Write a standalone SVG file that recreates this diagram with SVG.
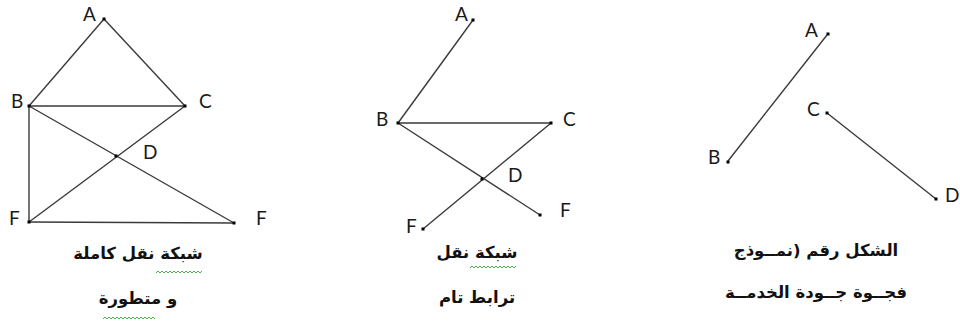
<svg xmlns="http://www.w3.org/2000/svg" width="960" height="329" viewBox="0 0 960 329">
<defs>
<style>
.e{stroke:#3a3a3a;stroke-width:1.4;fill:none}
.d{fill:#000}
.l{font-family:Lato,"Open Sans",sans-serif;font-size:19px;fill:#1a1a1a}
.ar{font-family:"DejaVu Sans",sans-serif;font-weight:bold;font-size:16.5px;fill:#111}
.sq{stroke:#4caf50;stroke-width:1;fill:none}
</style>
</defs>
<rect width="960" height="329" fill="#fff"/>
<g id="connectors">
<line class="e" x1="104" y1="19" x2="29" y2="106"/>
<line class="e" x1="104" y1="19" x2="185" y2="106"/>
<line class="e" x1="29" y1="106" x2="185" y2="106"/>
<line class="e" x1="29" y1="106" x2="29" y2="222"/>
<line class="e" x1="29" y1="106" x2="234" y2="223"/>
<line class="e" x1="185" y1="106" x2="29" y2="222"/>
<line class="e" x1="29" y1="222" x2="234" y2="223"/>
<line class="e" x1="473" y1="20" x2="398" y2="123"/>
<line class="e" x1="398" y1="123" x2="551" y2="123"/>
<line class="e" x1="398" y1="123" x2="540" y2="215"/>
<line class="e" x1="551" y1="123" x2="423" y2="229"/>
<line class="e" x1="827" y1="35" x2="728" y2="161"/>
<line class="e" x1="827" y1="113" x2="936" y2="199"/>
</g>
<g id="n1A"><rect class="d" x="102.5" y="17.5" width="3" height="3"/><text class="l" x="83" y="21">A</text></g>
<g id="n1B"><rect class="d" x="27.5" y="104.5" width="3" height="3"/><text class="l" x="11" y="108">B</text></g>
<g id="n1C"><rect class="d" x="183.5" y="104.5" width="3" height="3"/><text class="l" x="199" y="108">C</text></g>
<g id="n1D"><rect class="d" x="114.5" y="154.5" width="3" height="3"/><text class="l" x="143" y="159">D</text></g>
<g id="n1F1"><rect class="d" x="27.5" y="220.5" width="3" height="3"/><text class="l" x="9" y="225">F</text></g>
<g id="n1F2"><rect class="d" x="232.5" y="221.5" width="3" height="3"/><text class="l" x="256" y="225">F</text></g>
<g id="n2A"><rect class="d" x="471.5" y="18.5" width="3" height="3"/><text class="l" x="455" y="21">A</text></g>
<g id="n2B"><rect class="d" x="396.5" y="121.5" width="3" height="3"/><text class="l" x="376" y="126">B</text></g>
<g id="n2C"><rect class="d" x="549.5" y="121.5" width="3" height="3"/><text class="l" x="563" y="126">C</text></g>
<g id="n2D"><rect class="d" x="480.5" y="177.5" width="3" height="3"/><text class="l" x="508" y="182">D</text></g>
<g id="n2F1"><rect class="d" x="421.5" y="227.5" width="3" height="3"/><text class="l" x="406" y="233">F</text></g>
<g id="n2F2"><rect class="d" x="538.5" y="213.5" width="3" height="3"/><text class="l" x="560" y="217">F</text></g>
<g id="n3A"><rect class="d" x="826.5" y="32.5" width="3" height="3"/><text class="l" x="805" y="37">A</text></g>
<g id="n3B"><rect class="d" x="726.5" y="160.5" width="3" height="3"/><text class="l" x="708" y="164">B</text></g>
<g id="n3C"><rect class="d" x="825.5" y="111.5" width="3" height="3"/><text class="l" x="807" y="116">C</text></g>
<g id="n3D"><rect class="d" x="934.5" y="197.5" width="3" height="3"/><text class="l" x="945" y="202">D</text></g>
<g id="cap1">
<text class="ar" direction="rtl" x="138" y="259" text-anchor="middle">شبكة نقل كاملة</text>
<text class="ar" direction="rtl" x="138" y="304" text-anchor="middle">و متطورة</text>
<path class="sq" d="M156 273 l2 -2 l2 2 l2 -2 l2 2 l2 -2 l2 2 l2 -2 l2 2 l2 -2 l2 2 l2 -2 l2 2 l2 -2 l2 2 l2 -2 l2 2 l2 -2 l2 2 l2 -2 l2 2 l2 -2 l2 2 l2 -2"/>
<path class="sq" d="M103 319 l2 -2 l2 2 l2 -2 l2 2 l2 -2 l2 2 l2 -2 l2 2 l2 -2 l2 2 l2 -2 l2 2 l2 -2 l2 2 l2 -2 l2 2 l2 -2 l2 2 l2 -2 l2 2 l2 -2 l2 2 l2 -2 l2 2 l2 -2 l2 2"/>
</g>
<g id="cap2">
<text class="ar" direction="rtl" x="477" y="258" text-anchor="middle">شبكة نقل</text>
<text class="ar" direction="rtl" x="477" y="303" text-anchor="middle">ترابط تام</text>
<path class="sq" d="M470 268 l2 -2 l2 2 l2 -2 l2 2 l2 -2 l2 2 l2 -2 l2 2 l2 -2 l2 2 l2 -2 l2 2 l2 -2 l2 2 l2 -2 l2 2 l2 -2 l2 2 l2 -2 l2 2 l2 -2 l2 2 l2 -2"/>
</g>
<g id="cap3">
<text class="ar" direction="rtl" x="816" y="256" text-anchor="middle">الشكل رقم (نمــوذج</text>
<text class="ar" direction="rtl" x="816" y="298" text-anchor="middle">فجــوة جــودة الخدمــة</text>
</g>
</svg>
